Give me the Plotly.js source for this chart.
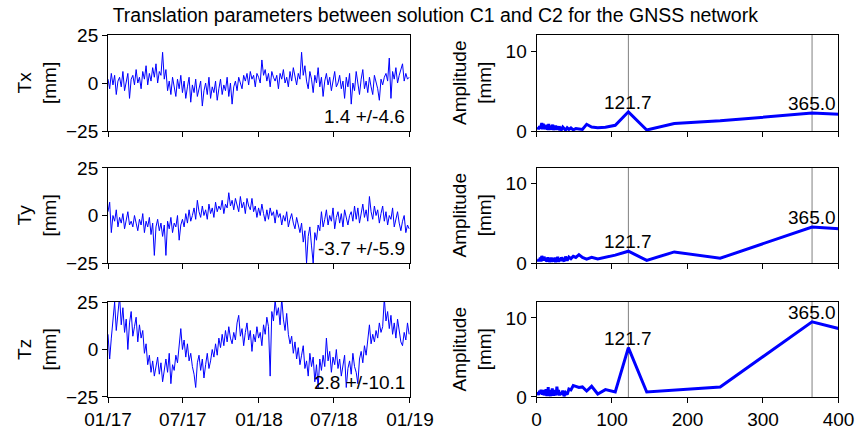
<!DOCTYPE html>
<html><head><meta charset="utf-8">
<script src="https://cdn.plot.ly/plotly-3.0.1.min.js"></script>
<style>html,body{margin:0;padding:0;background:#fff}#chart{width:862px;height:429px}</style>
</head><body><div id="chart"></div>
<script>
// ---- Data ----
const seriesNames = ['Tx', 'Ty', 'Tz'];
const startDate = '2017-01-01';
const stepDays = 4;
const dateTickVals = ['2017-01-01', '2017-07-01', '2018-01-01', '2018-07-01', '2019-01-01'];
const dateTickText = ['01/17', '07/17', '01/18', '07/18', '01/19'];

const tx = [2,-3,5,-1,4,-6,1,3,-2,6,-4,0,5,-8,2,
 4,-1,7,0,3,-3,6,2,9,-1,5,1,8,3,10,0,6,4,16,2,
 7,-4,1,-6,3,-2,-7,2,-3,4,
 -5,1,-8,-2,3,-10,-1,-5,2,-7,-3,1,-12,-4,0,-6,3,-8,-2,-5,1,-9,-3,2,-6,-1,-4,3,-7,0,
 -11,-2,1,-4,3,0,-3,4,1,5,-1,6,2,4,-2,5,3,
 0,12,4,7,1,5,-2,6,3,1,4,-3,5,2,7,0,3,-2,6,1,8,3,-1,5,2,16,4,9,
 1,-3,6,2,-5,4,0,8,-2,3,-7,1,5,-1,3,-4,2,6,-2,0,
 4,-3,1,-8,3,-2,5,-11,0,-4,6,-1,-6,2,7,-3,1,-5,3,-2,-6,4,0,-3,-9,2,-1,3,
 5,1,13,-8,6,2,8,0,4,7,10,1,5,2,3];

const ty = [2,7,-9,0,-3,3,-6,-1,-4,1,-7,-2,2,-5,-3,
 -6,0,-4,-8,-2,-5,1,-9,-3,-6,-1,-10,-4,-21,-6,-2,-8,-4,-11,-5,-21,-3,-7,-1,-9,-4,-6,0,-13,-5,
 -2,-6,1,-4,3,-3,0,4,-2,8,2,-1,5,0,3,-2,6,1,4,-1,7,2,5,3,8,1,6,
 4,12,5,8,3,9,6,2,10,4,7,1,9,5,3,9,
 2,5,-1,4,0,6,1,-3,3,-2,4,0,2,-4,3,-1,1,-5,0,-3,2,-6,-2,1,-4,-7,-1,-5,
 -9,-4,-14,-8,-25,-11,-6,-16,-25,-9,-13,-5,
 -8,2,-6,-2,3,-5,0,-3,4,-7,-1,2,-4,1,-6,3,-2,-5,0,2,-3,5,
 -2,4,-4,1,6,-1,3,-3,10,2,-2,5,0,3,-4,
 1,5,-3,2,-5,0,-2,4,-6,-1,2,-4,-8,-3,0,-9,-5,-7];

const tz = [8,-5,6,14,25,10,18,28,13,22,
 9,16,0,14,20,7,12,17,4,13,
 6,10,-2,3,-8,-3,-12,-6,-14,-9,
 -4,-13,-7,-17,-10,-5,-12,-2,-18,-8,
 -11,-3,-7,2,11,0,5,-4,3,-6,
 -2,-9,-13,-20,-7,-3,-11,-5,-15,-8,
 -2,-10,-6,0,-4,3,-3,6,1,8,
 2,10,4,12,6,3,9,5,14,18,
 7,11,2,9,14,5,10,-1,8,4,
 12,6,9,2,13,8,17,12,-14,20,
 15,26,18,22,13,27,16,10,19,8,
 3,7,-2,4,-5,1,-8,-3,2,-10,
 -6,-14,-2,-9,-4,-17,-8,-20,-5,-11,
 -3,-9,6,-6,-1,-12,-4,-8,0,-10,
 -5,-14,-8,-3,-20,-10,-6,-13,-2,-9,
 -12,-18,-5,-1,-7,2,-3,5,13,3,
 8,4,10,6,14,9,12,27,15,20,
 11,18,8,14,6,16,10,4,2,9,5,14,8];

const statsText = ['1.4 +/-4.6', '-3.7 +/-5.9', '2.8 +/-10.1'];

const periods = [730,365,243.3,182.5,146,121.7,104.3,91.3,81.1,73,
 66.4,60.8,56.2,52.1,48.7,45.6,42.9,40.6,38.4,36.5,
 34.8,33.2,31.7,30.4,29.2,28.1,27.0,26.1,25.2,24.3,
 23.5,22.8,22.1,21.5,20.9,20.3,19.7,19.2,18.7,18.3,
 17.8,17.4,17.0,16.6,16.2,15.9,15.5,15.2,14.9,14.6,
 14.3,14.0,13.8,13.5,13.3,13.0,12.8,12.6,12.4,12.2,
 11.0,10.0,9.0,8.0,7.0,6.0,5.0,4.0,3.0,2.5,2.0];

const ampTx = [0.8,2.24,1.27,0.93,0.13,2.4,0.72,0.46,0.42,0.5,
 0.84,0.2,0.25,0.3,0.15,0.38,0.2,0.4,0.12,0.3,
 0.5,0.2,0.35,0.1,0.6,0.25,0.45,0.15,0.7,0.3,
 0.2,0.55,0.1,0.8,0.35,0.2,0.6,0.15,0.4,0.25,
 0.7,0.3,0.5,0.1,0.9,0.35,0.2,0.6,0.3,0.45,
 0.15,0.5,0.25,0.8,0.3,0.55,0.2,0.4,0.65,0.25,
 0.5,0.3,0.9,0.2,1.0,0.4,0.3,0.6,0.2,0.4,0.3];

const ampTy = [2.36,4.55,0.6,1.4,0.34,1.49,1.0,0.77,0.5,0.72,
 0.5,0.7,1.06,0.7,0.85,0.55,0.75,0.3,0.8,0.2,
 0.5,0.7,0.25,0.6,0.15,0.8,0.3,0.45,0.1,0.7,
 0.35,0.2,0.6,0.3,0.5,0.15,0.7,0.25,0.4,0.6,
 0.2,0.5,0.1,0.65,0.3,0.45,0.2,0.75,0.35,0.2,
 0.6,0.3,0.5,0.15,0.7,0.4,0.25,0.55,0.3,0.6,
 0.4,0.8,0.3,0.6,0.9,0.2,0.7,0.3,0.5,0.2,0.4];

const ampTz = [0.64,9.5,1.27,0.84,0.63,6.24,0.63,0.93,0.38,1.35,
 0.76,1.27,1.2,1.35,1.45,0.9,1.0,0.3,0.55,0.1,
 0.8,0.3,0.6,0.2,0.9,0.4,1.3,0.2,0.7,0.35,
 0.9,0.15,0.6,0.3,1.1,0.2,0.5,0.8,0.1,0.6,
 0.3,0.9,0.2,0.7,0.4,0.1,1.25,0.5,0.2,0.8,
 0.3,0.6,0.1,0.9,0.4,0.7,0.2,1.0,0.3,0.5,
 0.8,0.2,0.9,0.3,0.7,0.9,0.4,0.8,0.3,0.6,0.2];

const markPeriods = [121.7, 365.0];
const titleText = 'Translation parameters between solution C1 and C2 for the GNSS network';

// ---- Build figure ----
function makeDates(n) {
  const out = [];
  const t0 = Date.parse(startDate + 'T00:00:00Z');
  for (let i = 0; i < n; i++) {
    out.push(new Date(t0 + i * stepDays * 86400000).toISOString().slice(0, 10));
  }
  return out;
}

const FONT = 'Liberation Sans, Arial, sans-serif';
const FS = 19;
const series = [tx, ty, tz];
const amps = [ampTx, ampTy, ampTz];

const leftDom = [0.1253, 0.4756];
const rightDom = [0.6224, 0.9727];
const rowDom = [[0.6946, 0.9184], [0.3869, 0.6084], [0.0746, 0.296]];

const baseAxis = {
  showline: true, mirror: true, linecolor: 'black', linewidth: 1,
  ticks: 'outside', ticklen: 5, tickwidth: 1, tickcolor: 'black',
  showgrid: false, zeroline: false,
  tickfont: {family: FONT, size: FS, color: 'black'}
};

const data = [];
const layout = {
  width: 862, height: 429,
  margin: {l: 0, r: 0, t: 0, b: 0},
  paper_bgcolor: 'white', plot_bgcolor: 'white',
  showlegend: false,
  font: {family: FONT, size: FS, color: 'black'},
  title: {text: titleText, x: 0.505, xref: 'paper', xanchor: 'center', y: 1 - 15 / 429, yref: 'container', yanchor: 'middle', font: {family: FONT, size: 19.5, color: 'black'}},
  annotations: [],
  shapes: []
};

for (let r = 0; r < 3; r++) {
  const li = 2 * r + 1, ri = 2 * r + 2;
  const lx = 'x' + li, ly = 'y' + li, rx = 'x' + ri, ry = 'y' + ri;
  const vals = series[r];
  data.push({x: makeDates(vals.length), y: vals, xaxis: lx, yaxis: ly, type: 'scatter', mode: 'lines',
    line: {color: '#0000ff', width: 1}, hoverinfo: 'skip'});
  data.push({x: periods, y: amps[r], xaxis: rx, yaxis: ry, type: 'scatter', mode: 'lines',
    line: {color: '#0000ff', width: 3}, hoverinfo: 'skip'});

  const lxName = 'xaxis' + (li === 1 ? '' : li);
  const lyName = 'yaxis' + (li === 1 ? '' : li);
  layout[lxName] = Object.assign({}, baseAxis, {domain: leftDom, anchor: ly, type: 'date',
    range: [dateTickVals[0], dateTickVals[dateTickVals.length - 1]],
    tickmode: 'array', tickvals: dateTickVals, ticktext: dateTickText, showticklabels: r === 2});
  layout[lyName] = Object.assign({}, baseAxis, {domain: rowDom[r], anchor: lx, range: [-25, 25],
    tickmode: 'array', tickvals: [-25, 0, 25]});
  layout['xaxis' + ri] = Object.assign({}, baseAxis, {domain: rightDom, anchor: ry, range: [0, 400],
    tickmode: 'array', tickvals: [0, 100, 200, 300, 400], showticklabels: r === 2});
  layout['yaxis' + ri] = Object.assign({}, baseAxis, {domain: rowDom[r], anchor: rx, range: [0, 12],
    tickmode: 'array', tickvals: [0, 10]});

  // y titles
  layout.annotations.push({text: seriesNames[r] + '<br>[mm]', textangle: -90, xref: 'paper', x: 37 / 862,
    yref: ly + ' domain', y: 0.5, xanchor: 'center', yanchor: 'middle', showarrow: false,
    font: {family: FONT, size: FS, color: 'black'}});
  layout.annotations.push({text: 'Amplitude<br>[mm]', textangle: -90, xref: 'paper', x: 472 / 862,
    yref: ry + ' domain', y: 0.5, xanchor: 'center', yanchor: 'middle', showarrow: false,
    font: {family: FONT, size: FS, color: 'black'}});
  // stats text
  layout.annotations.push({text: statsText[r], xref: lx + ' domain', x: 0.99, yref: ly + ' domain', y: 0.02,
    xanchor: 'right', yanchor: 'bottom', showarrow: false, font: {family: FONT, size: FS, color: 'black'}});
  // period markers
  for (const p of markPeriods) {
    const idx = periods.findIndex(v => Math.abs(v - p) < 0.5);
    const a = amps[r][idx];
    layout.shapes.push({type: 'line', xref: rx, x0: p, x1: p, yref: ry + ' domain', y0: 0, y1: 1,
      line: {color: '#808080', width: 1}, layer: 'below'});
    layout.annotations.push({text: p.toFixed(1), xref: rx, x: p, yref: ry, y: a, xanchor: 'center', yanchor: 'bottom',
      yshift: -3, showarrow: false, font: {family: FONT, size: FS, color: 'black'}});
  }
}

Plotly.newPlot('chart', data, layout, {staticPlot: true, displayModeBar: false});
</script>
</body></html>
